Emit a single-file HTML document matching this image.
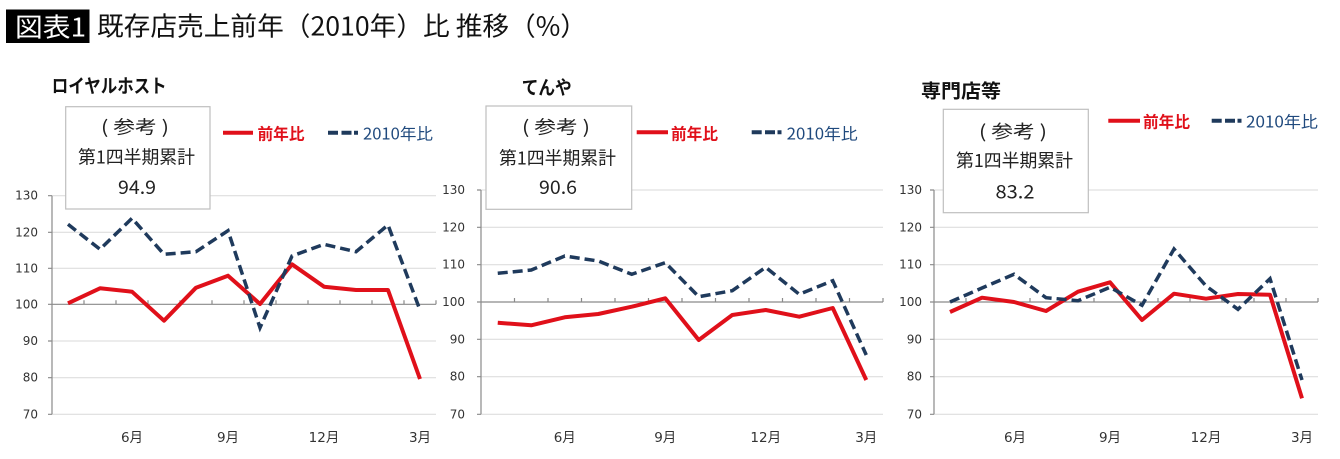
<!DOCTYPE html>
<html><head><meta charset="utf-8"><style>
html,body{margin:0;padding:0;background:#fff;}
svg{display:block;}
text{font-family:"Liberation Sans","Noto Sans CJK JP",sans-serif;}
.yl{font-family:"DejaVu Sans","Noto Sans CJK JP",sans-serif;font-size:12px;fill:#333;text-anchor:end;dominant-baseline:central;}
.ml{font-family:"DejaVu Sans","Noto Sans CJK JP",sans-serif;font-size:13.5px;fill:#333;text-anchor:middle;dominant-baseline:central;}
.bx{font-family:"Noto Sans CJK JP",sans-serif;font-size:18px;fill:#222;text-anchor:middle;dominant-baseline:central;}
.bn{font-family:"Noto Sans CJK JP","Liberation Sans",sans-serif;font-size:19px;fill:#222;text-anchor:middle;dominant-baseline:central;}
.ct{font-family:"Noto Sans CJK JP",sans-serif;font-size:19px;font-weight:bold;fill:#111;dominant-baseline:central;}
.lr{font-family:"Noto Sans CJK JP",sans-serif;font-size:16px;font-weight:bold;fill:#e0101a;dominant-baseline:central;}
.lb{font-family:"Noto Sans CJK JP",sans-serif;font-size:16px;fill:#1f497d;dominant-baseline:central;}
.g{stroke:#d9d9d9;stroke-width:1;}
.ax{stroke:#8a8a8a;stroke-width:1.2;fill:none;}
.red{fill:none;stroke:#e0101a;stroke-width:4;stroke-linejoin:round;}
.blue{fill:none;stroke:#1f3a5c;stroke-width:3.5;stroke-dasharray:10 5;}
</style></head><body>
<svg width="1340" height="459" viewBox="0 0 1340 459" xmlns="http://www.w3.org/2000/svg">
<rect width="1340" height="459" fill="#fff"/>
<!-- header -->
<rect x="6" y="9.5" width="83.5" height="33.5" fill="#000"/>
<text x="15" y="26" font-size="26" fill="#fff" dominant-baseline="central" textLength="71" lengthAdjust="spacingAndGlyphs" style="font-family:'Noto Sans CJK JP',sans-serif;">図表1</text>
<text x="97" y="25" font-size="26" fill="#111" dominant-baseline="central" textLength="490" lengthAdjust="spacingAndGlyphs" style="font-family:'Noto Sans CJK JP',sans-serif;">既存店売上前年（2010年）比 推移（%）</text>

<!-- ===== Chart 1 ===== -->
<g>
<line class="g" x1="52" y1="195.7" x2="436" y2="195.7"/>
<line class="g" x1="52" y1="232.3" x2="436" y2="232.3"/>
<line class="g" x1="52" y1="268.3" x2="436" y2="268.3"/>
<line class="g" x1="52" y1="341" x2="436" y2="341"/>
<line class="g" x1="52" y1="377.7" x2="436" y2="377.7"/>
<line class="g" x1="52" y1="414.3" x2="436" y2="414.3"/>
<line class="ax" x1="52" y1="304.3" x2="436" y2="304.3"/>
<path class="ax" d="M84 304.3v-4M116 304.3v-4M148 304.3v-4M180 304.3v-4M212 304.3v-4M244 304.3v-4M276 304.3v-4M308 304.3v-4M340 304.3v-4M372 304.3v-4M404 304.3v-4M436 304.3v-4"/>
<line class="ax" x1="52" y1="195.7" x2="52" y2="414.3"/>
<path class="ax" d="M48 195.7h4M48 232.3h4M48 268.3h4M48 304.3h4M48 341h4M48 377.7h4M48 414.3h4"/>
<text class="yl" x="38" y="195.7">130</text>
<text class="yl" x="38" y="232.3">120</text>
<text class="yl" x="38" y="268.3">110</text>
<text class="yl" x="38" y="304.3">100</text>
<text class="yl" x="38" y="341">90</text>
<text class="yl" x="38" y="377.7">80</text>
<text class="yl" x="38" y="414.3">70</text>
<text class="ml" x="132" y="438">6月</text>
<text class="ml" x="228" y="438">9月</text>
<text class="ml" x="324" y="438">12月</text>
<text class="ml" x="420" y="438">3月</text>
<polyline class="red" points="68,303.3 100,288.3 132,291.7 164,320.7 196,287.7 228,275.7 260,304 292,264.3 324,286.7 356,290 388,290 420,379"/>
<polyline class="blue" points="68,224.3 100,249.3 132,218.3 164,254.3 196,251.7 228,230.7 260,327.7 292,256 324,244.3 356,251.7 388,225 420,310"/>
<rect x="65.7" y="106.7" width="144.3" height="102.3" fill="#fff" stroke="#bfbfbf" stroke-width="1.2"/>
<text class="bx" x="135" y="126.7" textLength="68" lengthAdjust="spacingAndGlyphs">( 参考 )</text>
<text class="bx" x="136.5" y="156.7" textLength="117" lengthAdjust="spacingAndGlyphs">第1四半期累計</text>
<text class="bn" x="137" y="186.7" textLength="38" lengthAdjust="spacingAndGlyphs">94.9</text>
<text class="ct" x="51.7" y="85" textLength="115" lengthAdjust="spacingAndGlyphs">ロイヤルホスト</text>
<line x1="223" y1="132.7" x2="253" y2="132.7" stroke="#e0101a" stroke-width="4"/>
<text class="lr" x="257.5" y="132.7" textLength="47" lengthAdjust="spacingAndGlyphs">前年比</text>
<path d="M328 132.7h10M341.5 132.7h10M354 132.7h4" stroke="#1f3a5c" stroke-width="4"/>
<text class="lb" x="363" y="132.7" textLength="70" lengthAdjust="spacingAndGlyphs">2010年比</text>
</g>

<!-- ===== Chart 2 ===== -->
<g>
<line class="g" x1="481" y1="190" x2="883" y2="190"/>
<line class="g" x1="481" y1="227.3" x2="883" y2="227.3"/>
<line class="g" x1="481" y1="264.7" x2="883" y2="264.7"/>
<line class="g" x1="481" y1="339.3" x2="883" y2="339.3"/>
<line class="g" x1="481" y1="376.7" x2="883" y2="376.7"/>
<line class="g" x1="481" y1="414.3" x2="883" y2="414.3"/>
<line class="ax" x1="481" y1="302" x2="883" y2="302"/>
<path class="ax" d="M514.5 302v-4M548 302v-4M581.5 302v-4M615 302v-4M648.5 302v-4M682 302v-4M715.5 302v-4M749 302v-4M782.5 302v-4M816 302v-4M849.5 302v-4M883 302v-4"/>
<line class="ax" x1="481" y1="190" x2="481" y2="414.3"/>
<path class="ax" d="M477 190h4M477 227.3h4M477 264.7h4M477 302h4M477 339.3h4M477 376.7h4M477 414.3h4"/>
<text class="yl" x="465" y="190">130</text>
<text class="yl" x="465" y="227.3">120</text>
<text class="yl" x="465" y="264.7">110</text>
<text class="yl" x="465" y="302">100</text>
<text class="yl" x="465" y="339.3">90</text>
<text class="yl" x="465" y="376.7">80</text>
<text class="yl" x="465" y="414.3">70</text>
<text class="ml" x="564.75" y="438">6月</text>
<text class="ml" x="665.25" y="438">9月</text>
<text class="ml" x="765.75" y="438">12月</text>
<text class="ml" x="866.25" y="438">3月</text>
<polyline class="red" points="497.75,322.7 531.25,325.3 564.75,317.3 598.25,314 631.75,306.7 665.25,298.3 698.75,340 732.25,315 765.75,310 799.25,316.7 832.75,308 866.25,380"/>
<polyline class="blue" points="497.75,273.3 531.25,270 564.75,256 598.25,261 631.75,274.3 665.25,262.7 698.75,296.7 732.25,290.7 765.75,267.3 799.25,294.3 832.75,280.7 866.25,355"/>
<rect x="486" y="106" width="145.7" height="103.3" fill="#fff" stroke="#bfbfbf" stroke-width="1.2"/>
<text class="bx" x="556" y="126.7" textLength="68" lengthAdjust="spacingAndGlyphs">( 参考 )</text>
<text class="bx" x="557.5" y="157.3" textLength="117" lengthAdjust="spacingAndGlyphs">第1四半期累計</text>
<text class="bn" x="558" y="186.7" textLength="38" lengthAdjust="spacingAndGlyphs">90.6</text>
<text class="ct" x="521.7" y="86.7" textLength="50" lengthAdjust="spacingAndGlyphs">てんや</text>
<line x1="636.7" y1="132.3" x2="668" y2="132.3" stroke="#e0101a" stroke-width="4"/>
<text class="lr" x="671" y="132.3" textLength="47" lengthAdjust="spacingAndGlyphs">前年比</text>
<path d="M751.7 132.3h10M765 132.3h10M777.5 132.3h4" stroke="#1f3a5c" stroke-width="4"/>
<text class="lb" x="786.7" y="132.3" textLength="71" lengthAdjust="spacingAndGlyphs">2010年比</text>
</g>

<!-- ===== Chart 3 ===== -->
<g>
<line class="g" x1="934" y1="190" x2="1318" y2="190"/>
<line class="g" x1="934" y1="227.3" x2="1318" y2="227.3"/>
<line class="g" x1="934" y1="264.7" x2="1318" y2="264.7"/>
<line class="g" x1="934" y1="339.3" x2="1318" y2="339.3"/>
<line class="g" x1="934" y1="376.7" x2="1318" y2="376.7"/>
<line class="g" x1="934" y1="414.3" x2="1318" y2="414.3"/>
<line class="ax" x1="934" y1="302" x2="1318" y2="302"/>
<path class="ax" d="M966 302v-4M998 302v-4M1030 302v-4M1062 302v-4M1094 302v-4M1126 302v-4M1158 302v-4M1190 302v-4M1222 302v-4M1254 302v-4M1286 302v-4M1318 302v-4"/>
<line class="ax" x1="934" y1="190" x2="934" y2="414.3"/>
<path class="ax" d="M930 190h4M930 227.3h4M930 264.7h4M930 302h4M930 339.3h4M930 376.7h4M930 414.3h4"/>
<text class="yl" x="922" y="190">130</text>
<text class="yl" x="922" y="227.3">120</text>
<text class="yl" x="922" y="264.7">110</text>
<text class="yl" x="922" y="302">100</text>
<text class="yl" x="922" y="339.3">90</text>
<text class="yl" x="922" y="376.7">80</text>
<text class="yl" x="922" y="414.3">70</text>
<text class="ml" x="1015" y="438">6月</text>
<text class="ml" x="1110" y="438">9月</text>
<text class="ml" x="1206" y="438">12月</text>
<text class="ml" x="1302" y="438">3月</text>
<polyline class="red" points="950,312 982,297.7 1014,302 1046,311 1078,291.7 1110,282.3 1142,320 1174,293.7 1206,298.7 1238,294 1270,294.7 1302,398.3"/>
<polyline class="blue" points="950,302 982,288 1014,274.3 1046,297.7 1078,300.7 1110,287.3 1142,305.3 1174,249 1206,286 1238,309.3 1270,278.7 1302,380"/>
<rect x="943.3" y="109.3" width="145" height="103.4" fill="#fff" stroke="#bfbfbf" stroke-width="1.2"/>
<text class="bx" x="1013" y="131" textLength="68" lengthAdjust="spacingAndGlyphs">( 参考 )</text>
<text class="bx" x="1014.5" y="160" textLength="117" lengthAdjust="spacingAndGlyphs">第1四半期累計</text>
<text class="bn" x="1015" y="191" textLength="39" lengthAdjust="spacingAndGlyphs">83.2</text>
<text class="ct" x="921" y="90" textLength="80" lengthAdjust="spacingAndGlyphs">専門店等</text>
<line x1="1108.3" y1="120.7" x2="1140" y2="120.7" stroke="#e0101a" stroke-width="4"/>
<text class="lr" x="1143" y="120.7" textLength="47" lengthAdjust="spacingAndGlyphs">前年比</text>
<path d="M1211.7 120.7h10M1225 120.7h10M1237.5 120.7h4" stroke="#1f3a5c" stroke-width="4"/>
<text class="lb" x="1246" y="120.7" textLength="72" lengthAdjust="spacingAndGlyphs">2010年比</text>
</g>
</svg>
</body></html>
